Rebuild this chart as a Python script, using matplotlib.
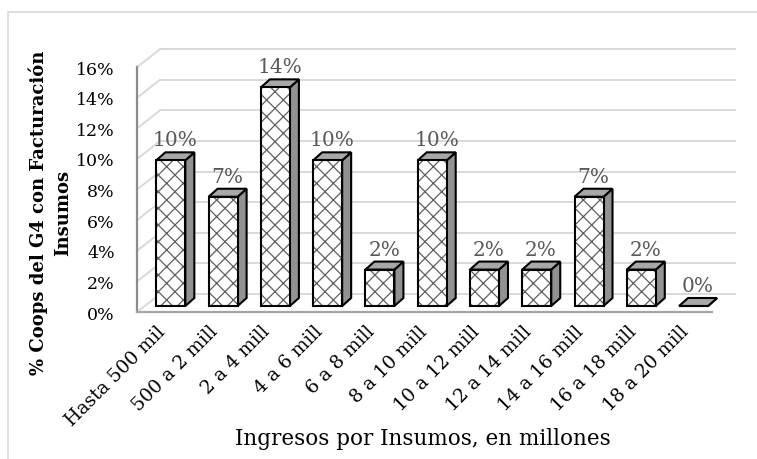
import matplotlib
matplotlib.use("Agg")
import matplotlib.pyplot as plt
from matplotlib.patches import Polygon, Rectangle
from matplotlib.transforms import Affine2D

categories = ["Hasta 500 mil", "500 a 2 mill", "2 a 4 mill", "4 a 6 mill", "6 a 8 mill",
              "8 a 10 mill", "10 a 12 mill", "12 a 14 mill", "14 a 16 mill",
              "16 a 18 mill", "18 a 20 mill"]
values = [9.52, 7.14, 14.29, 9.52, 2.38, 9.52, 2.38, 2.38, 7.14, 2.38, 0.0]
yticks = [0, 2, 4, 6, 8, 10, 12, 14, 16]
ytick_labels = [f"{t}%" for t in yticks]
xlabel = "Ingresos por Insumos, en millones"
ylabel = "% Coops del G4 con Facturación\nInsumos"

plt.rcParams['font.family'] = ['DejaVu Serif']
plt.rcParams['hatch.linewidth'] = 0.9

W, H = 757, 460
fig = plt.figure(figsize=(W / 100, H / 100), dpi=100)

# chart border (top & left visible)
fig.patches.append(Rectangle((8 / W, -0.1), 1.2, (H - 13) / H + 0.1, transform=fig.transFigure,
                             fill=False, edgecolor='#d9d9d9', linewidth=1.2))

L, R, B = 137, 712, 313
pxy = 15.3
T = B - 16 * pxy
ax = fig.add_axes([L / W, (H - B) / H, (R - L) / W, (B - T) / H])
n = len(categories)
ax.set_xlim(0, n)
ax.set_ylim(0, 16)
for s in ax.spines.values():
    s.set_visible(False)
ax.patch.set_visible(False)

px_x = (R - L) / n  # pixels per category


def off(dx, dy):
    return dx / px_x, dy / pxy


# back wall & left wall gridlines
bx, by = off(23, 18)
for t in yticks:
    ax.plot([0, bx], [t, t + by], color='#d9d9d9', lw=1.4, clip_on=False, zorder=1)
    ax.plot([bx, n + bx], [t + by, t + by], color='#d9d9d9', lw=1.4, clip_on=False, zorder=1)
ax.plot([0, 0], [0, 16], color='#8c8c8c', lw=1.6, clip_on=False, zorder=2)
ax.plot([0, n], [0, 0], color='#a6a6a6', lw=1.6, clip_on=False, zorder=2)

# 3D bars
fx, fy = off(7.7, 6)
ddx, ddy = off(9, 8)
w = 0.555
for i, v in enumerate(values):
    x0 = i + 0.5 - w / 2 + fx
    x1 = i + 0.5 + w / 2 + fx
    y0 = fy
    y1 = v + fy
    side = [(x1, y0), (x1, y1), (x1 + ddx, y1 + ddy), (x1 + ddx, y0 + ddy)]
    top = [(x0, y1), (x1, y1), (x1 + ddx, y1 + ddy), (x0 + ddx, y1 + ddy)]
    front = [(x0, y0), (x1, y0), (x1, y1), (x0, y1)]
    ax.add_patch(Polygon(side, closed=True, facecolor='#929292', edgecolor='black', lw=1.5,
                         joinstyle='miter', clip_on=False, zorder=3))
    ax.add_patch(Polygon(top, closed=True, facecolor='#a8a8a8', edgecolor='black', lw=1.5,
                         joinstyle='miter', clip_on=False, zorder=3))
    if v > 0:
        ax.add_patch(Polygon(front, closed=True, facecolor='white', edgecolor='#606060', lw=0,
                             hatch='xx', clip_on=False, zorder=4))
    ax.add_patch(Polygon(front, closed=True, fill=False, edgecolor='black', lw=1.5,
                         joinstyle='miter', clip_on=False, zorder=5))
    ax.text(i + 0.5, v, f"{v:.0f}%", ha='center', va='baseline', fontsize=14.5, color='#595959',
            transform=ax.transData + Affine2D().translate(12, 21), zorder=6)

ax.set_yticks(yticks)
ax.set_yticklabels(ytick_labels, fontsize=12.5)
ax.tick_params(axis='y', length=0, pad=16)
ax.set_xticks([i + 0.5 for i in range(n)])
ax.set_xticklabels(categories, rotation=45, ha='right', va='top', fontsize=13.5)
ax.tick_params(axis='x', length=0, pad=7)
for lab in ax.get_xticklabels():
    lab.set_transform(lab.get_transform() + Affine2D().translate(6, 0))

ax.set_xlabel(xlabel, fontsize=15.5)
ax.xaxis.set_label_coords(0.497, (B - 428) / (B - T))
ax.set_ylabel(ylabel, fontsize=13, fontweight='bold', linespacing=1.4)
ax.yaxis.set_label_coords((72 - L) / (R - L), (B - 213) / (B - T))

fig.savefig("out.png", dpi=100)
